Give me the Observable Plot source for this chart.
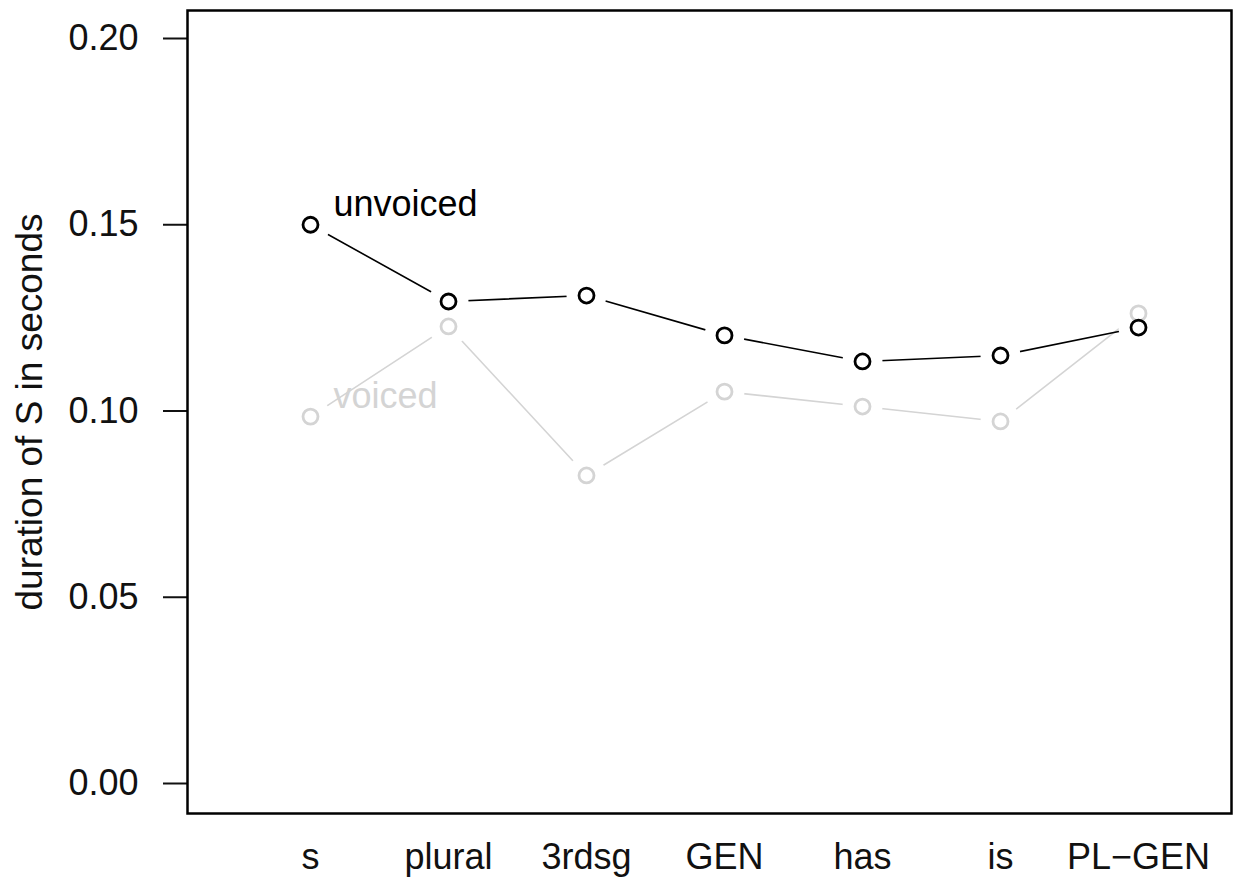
<!DOCTYPE html>
<html><head><meta charset="utf-8">
<script src="https://cdn.jsdelivr.net/npm/d3@7"></script>
<script src="https://cdn.jsdelivr.net/npm/@observablehq/plot@0.6"></script>
<style>body{margin:0;background:#fff}</style>
</head><body><div id="chart"></div>
<script>
const categories = ["s","plural","3rdsg","GEN","has","is","PL\u2212GEN"];
const unvoiced = [0.1500,0.1294,0.1310,0.1203,0.1133,0.1149,0.1224];
const voiced   = [0.0985,0.1227,0.0827,0.1052,0.1012,0.0972,0.1262];
const yTicks = [0, 0.05, 0.10, 0.15, 0.20];
const seriesNames = ["voiced","unvoiced"];
const seriesColors = ["#d4d4d4","#000000"];
const yLabel = "duration of S in seconds";

const rows = [];
categories.forEach((c,i)=>rows.push({series:"voiced", cat:c, value:voiced[i]}));
categories.forEach((c,i)=>rows.push({series:"unvoiced", cat:c, value:unvoiced[i]}));
const labels = [
  {series:"unvoiced", cat:categories[0], value:unvoiced[0]},
  {series:"voiced", cat:categories[0], value:voiced[0]}
];

const chart = Plot.plot({
  width: 1245, height: 884,
  marginLeft: 187, marginRight: 14, marginTop: 10, marginBottom: 71,
  style: {fontFamily: "Liberation Sans, Arial, sans-serif", background: "#fff"},
  x: {type: "point", domain: categories, range: [310, 1138], padding: 0},
  y: {domain: [0, 0.2], range: [783, 38]},
  color: {domain: seriesNames, range: seriesColors},
  marks: [
    Plot.axisY(yTicks, {tickSize: 24, tickPadding: 25, tickFormat: d3.format(".2f"), fontSize: 36, label: null, strokeWidth: 2, color: "#111"}),
    Plot.axisX({tickSize: 0, tickPadding: 30, fontSize: 36, label: null, color: "#111"}),
    Plot.text([yLabel], {frameAnchor: "left", textAnchor: "middle", dx: -157, rotate: -90, fontSize: 37, fill: "#111"}),
    Plot.line(rows, {x: "cat", y: "value", z: "series", stroke: "series", strokeWidth: 1.6}),
    Plot.text(labels, {x: "cat", y: "value", text: "series", fill: "series", dx: 23, dy: -20, textAnchor: "start", fontSize: 36}),
    Plot.dot(rows, {x: "cat", y: "value", r: 20, fill: "white", stroke: null}),
    Plot.dot(rows, {x: "cat", y: "value", r: 7.5, stroke: "series", fill: "none", strokeWidth: 2.8}),
    Plot.frame({stroke: "black", strokeWidth: 2.5})
  ]
});
document.getElementById("chart").appendChild(chart);
</script>
</body></html>
